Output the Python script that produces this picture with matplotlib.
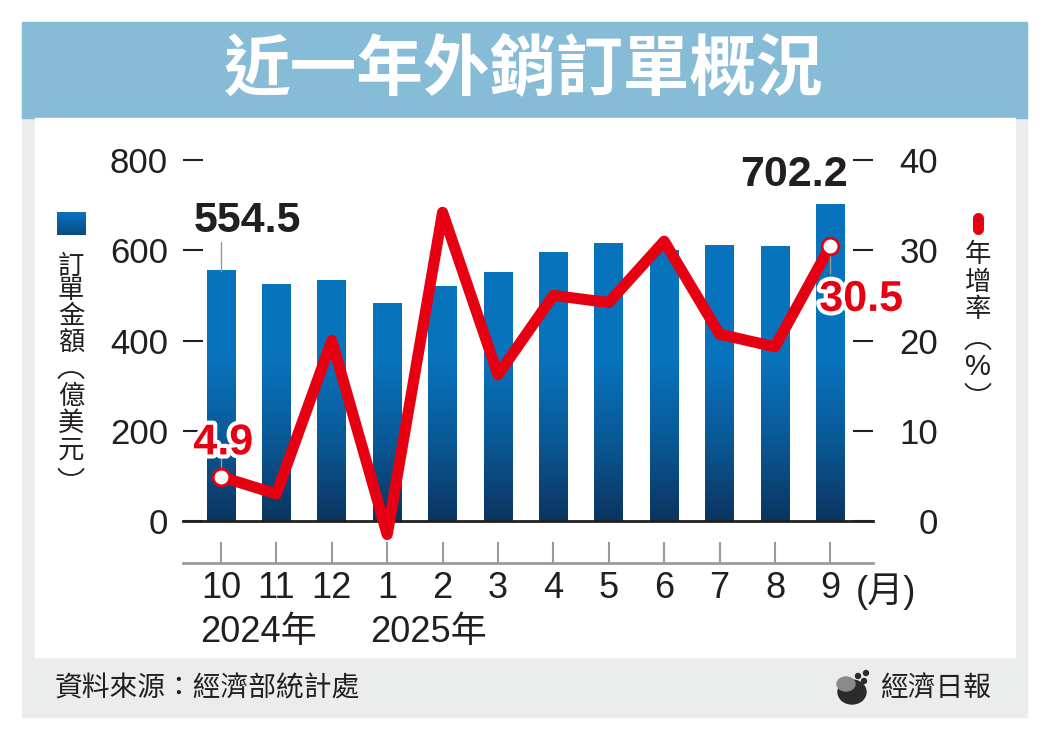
import matplotlib.pyplot as plt
import matplotlib.patheffects as pe
import numpy as np
from matplotlib.colors import LinearSegmentedColormap
from matplotlib.patches import Rectangle, Ellipse, Arc
from matplotlib.lines import Line2D

# --- data ---
months = ['10', '11', '12', '1', '2', '3', '4', '5', '6', '7', '8', '9']
orders = [554.5, 524.5, 533.5, 483.0, 519.0, 551.0, 594.5, 614.0, 600.0, 611.5, 608.0, 702.2]
growth = [4.9, 3.0, 20.0, -1.5, 34.2, 16.2, 25.0, 24.2, 31.0, 20.7, 19.3, 30.5]
year_labels = ['2024年', '2025年']
year_start = [0, 3]
left_ticks = [0, 200, 400, 600, 800]
right_ticks = [0, 10, 20, 30, 40]

W, H = 1049, 740
RED = '#e60012'
INK = '#231f20'
CJK = ['Noto Sans CJK TC', 'DejaVu Sans']
NUM = ['Liberation Sans', 'Noto Sans CJK TC']
NARROW = ['Liberation Sans Narrow', 'Liberation Sans', 'Noto Sans CJK TC']

plt.rcParams['font.family'] = NUM


def fx(px):
    return px / W


def fy(py):
    return 1 - py / H


def vtext(xpx, ys, chars, **kw):
    # stacked (vertical) text, one glyph per line
    for y, c in zip(ys, chars):
        fig.text(fx(xpx), fy(y), c, ha='center', va='center', **kw)


def vparen(xpx, ypx, opening):
    # sideways bracket used in vertical text: opening -> arc bulging up
    t1, t2 = (20, 160) if opening else (200, 340)
    fig.add_artist(Arc((fx(xpx), fy(ypx)), 27 / W, 20 / H, theta1=t1, theta2=t2,
                       transform=fig.transFigure, color=INK, lw=1.3))


fig = plt.figure(figsize=(W / 100, H / 100), dpi=100)

# frame, title banner, white panel
fig.add_artist(Rectangle((fx(22), fy(717)), 1005 / W, 695 / H,
                         transform=fig.transFigure, color='#ebecec', zorder=0))
fig.add_artist(Rectangle((fx(22), fy(118)), 1005 / W, 96 / H,
                         transform=fig.transFigure, color='#87bcd6', zorder=0))
fig.add_artist(Rectangle((fx(35), fy(657)), 980 / W, 539 / H,
                         transform=fig.transFigure, color='white', zorder=0))

fig.text(fx(524), fy(70), '近一年外銷訂單概況', color='white', fontsize=48,
         fontweight='bold', family=CJK, ha='center', va='center')

# main axes
ax = fig.add_axes([fx(183), fy(521), 690 / W, 361 / H])
ax.patch.set_visible(False)
x = np.arange(len(months))
bar_w = 0.52
cmap = LinearSegmentedColormap.from_list('bar', ['#0b3560', '#0a5996', '#0873bd'])
for xi, v in zip(x, orders):
    grad = np.linspace(0, v, 200).reshape(-1, 1)
    ax.imshow(grad, extent=[xi - bar_w / 2, xi + bar_w / 2, 0, v], origin='lower',
              aspect='auto', cmap=cmap, vmin=0, vmax=360, zorder=2,
              interpolation='bilinear')
ax.set_xlim(-0.686, 11.77)
ax.set_ylim(0, 800)

for s in ['left', 'right', 'top']:
    ax.spines[s].set_visible(False)
ax.spines['bottom'].set_linewidth(2)
ax.spines['bottom'].set_color(INK)

ax.set_yticks(left_ticks)
ax.tick_params(axis='y', direction='in', length=14.4, width=1.5, pad=10.8,
               labelsize=25, color=INK, labelcolor=INK)
ax.set_xticks(x, months, family=NARROW)
ax.tick_params(axis='x', length=0, pad=36, labelsize=26, labelcolor=INK)

# small gray ticks under the baseline
trans = ax.get_xaxis_transform()
for xi in x:
    ax.plot([xi, xi], [-22 / 361, -42 / 361], color='#9a9a9a', lw=1.5,
            transform=trans, clip_on=False)
ax.plot([0, 1], [-42 / 361, -42 / 361], color='#9a9a9a', lw=2,
        transform=ax.transAxes, clip_on=False)

ax.text(11.45, -0.197, '(月)', transform=trans, ha='left', va='center',
        fontsize=26, family=NARROW, color=INK)
for lab, xs in zip(year_labels, year_start):
    ax.text(xs - (0.38 if xs == 0 else 0.31), -0.31, lab, transform=trans,
            ha='left', va='center', fontsize=26, family=NARROW, color=INK)

# bar value labels
ax.plot([x[0], x[0]], [orders[0], orders[0] + 64], color='#9a9a9a', lw=1, zorder=3)
ax.text(x[0] + 0.47, orders[0] + 110, f'{orders[0]}', ha='center', va='center',
        fontsize=31, fontweight='bold', color=INK, zorder=5)
ax.text(x[-1] - 0.66, orders[-1] + 65, f'{orders[-1]}', ha='center', va='center',
        fontsize=31, fontweight='bold', color=INK, zorder=5)

# growth line on the right axis
ax2 = ax.twinx()
ax2.set_ylim(0, 40)
for s in ['left', 'right', 'top', 'bottom']:
    ax2.spines[s].set_visible(False)
ax2.set_yticks(right_ticks, [str(t) for t in right_ticks], ha='right')
ax2.tick_params(axis='y', direction='in', length=14.4, width=1.5, pad=46.8,
                labelsize=25, color=INK, labelcolor=INK)

ax2.plot(x, growth, color=RED, lw=8, solid_joinstyle='round',
         solid_capstyle='round', clip_on=False, zorder=3)
ax2.plot([x[0], x[0]], [growth[0], growth[0] + 2.4], color='#9a9a9a', lw=1, zorder=2)
ax2.plot([x[-1], x[-1]], [growth[-1], growth[-1] - 3.0], color='#9a9a9a', lw=1, zorder=4)
ax2.plot([x[0], x[-1]], [growth[0], growth[-1]], ls='none', marker='o', ms=12,
         mfc='white', mec=RED, mew=2, zorder=4, clip_on=False)
halo = [pe.withStroke(linewidth=6, foreground='white')]
ax2.text(x[0] + 0.04, growth[0] + 3.7, f'{growth[0]}', ha='center', va='center',
         fontsize=31, fontweight='bold', color=RED, path_effects=halo, zorder=6)
ax2.text(x[-1] - 0.2, growth[-1] - 6.0, f'{growth[-1]}', ha='left', va='center',
         fontsize=31, fontweight='bold', color=RED, path_effects=halo, zorder=6)

# legends / axis titles (vertical)
leg = fig.add_axes([fx(57), fy(235), 29 / W, 23 / H])
leg.imshow(np.linspace(1, 0, 50).reshape(-1, 1), aspect='auto',
           cmap=LinearSegmentedColormap.from_list('leg', ['#0b4a82', '#0873bd']))
leg.axis('off')
vtext(71, [266, 291, 316, 342], '訂單金額', fontsize=19, family=CJK, color=INK)
vparen(71, 382, True)
vtext(71, [396, 423, 450], '億美元', fontsize=19, family=CJK, color=INK)
vparen(71, 465, False)

fig.add_artist(Line2D([fx(978), fx(978)], [fy(218), fy(229)], lw=8, color=RED,
                      solid_capstyle='round', transform=fig.transFigure))
vtext(978, [254, 282, 309], '年增率', fontsize=19, family=CJK, color=INK)
vparen(978, 353, True)
vtext(978, [367], '%', fontsize=21, family=NUM, color=INK)
vparen(978, 380, False)

# footer
fig.text(fx(55), fy(688), '資料來源：經濟部統計處', fontsize=20, family=CJK,
         color=INK, va='center')
fig.text(fx(880), fy(688), '經濟日報', fontsize=20, family=CJK, color=INK,
         va='center')
fig.add_artist(Ellipse((fx(852), fy(692)), 28 / W, 24 / H, transform=fig.transFigure,
                       color='#2b2b2b'))
fig.add_artist(Ellipse((fx(846), fy(684)), 18 / W, 14 / H, transform=fig.transFigure,
                       color='#8a8a8a'))
for dx, dy in [(858, 676), (864, 681), (866, 673)]:
    fig.add_artist(Ellipse((fx(dx), fy(dy)), 5 / W, 5 / H, transform=fig.transFigure,
                           color='#2b2b2b'))

fig.savefig('out.png', dpi=100)
